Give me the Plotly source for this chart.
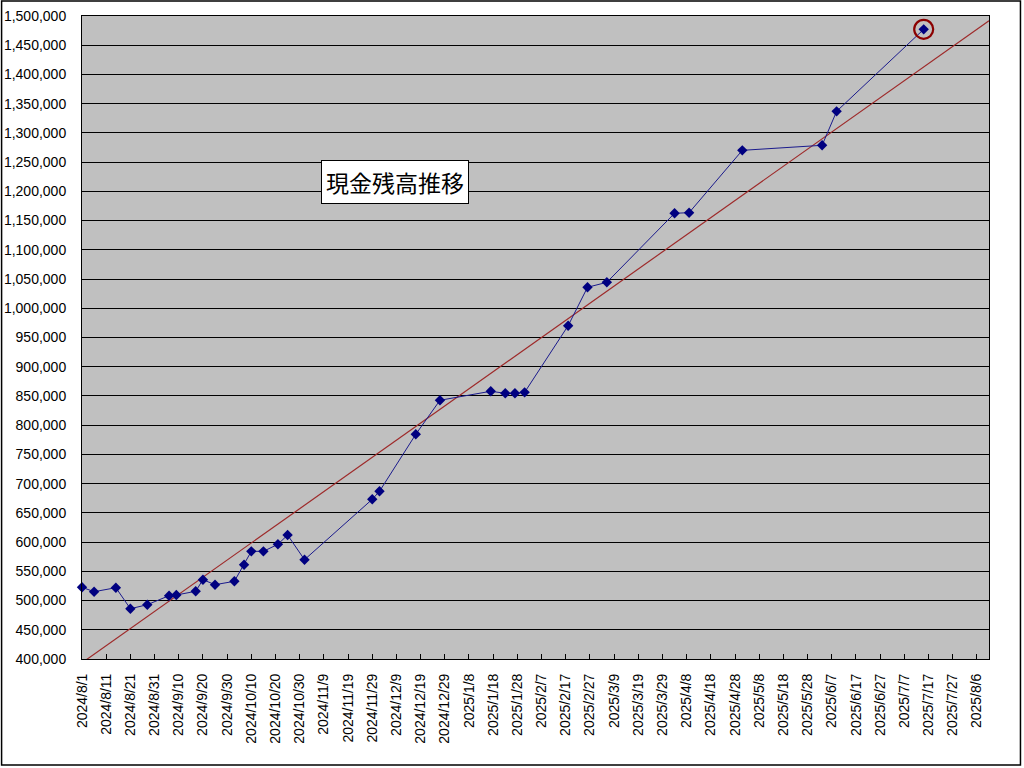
import plotly.graph_objects as go

# ---- data ----
dates = [
    "2024-08-01", "2024-08-06", "2024-08-15", "2024-08-21", "2024-08-28",
    "2024-09-06", "2024-09-09", "2024-09-17", "2024-09-20", "2024-09-25",
    "2024-10-03", "2024-10-07", "2024-10-10", "2024-10-15", "2024-10-21",
    "2024-10-25", "2024-11-01", "2024-11-29", "2024-12-02", "2024-12-17",
    "2024-12-27", "2025-01-17", "2025-01-23", "2025-01-27", "2025-01-31",
    "2025-02-18", "2025-02-26", "2025-03-06", "2025-04-03", "2025-04-09",
    "2025-05-01", "2025-06-03", "2025-06-09", "2025-07-15",
]
balance = [
    522700, 515100, 522000, 486000, 492900,
    508300, 509500, 515800, 535700, 527100,
    532900, 561300, 584200, 584200, 596200,
    612100, 569900, 673200, 686900, 784400,
    842600, 858000, 854500, 854500, 856200,
    970200, 1035900, 1044400, 1162500, 1163500,
    1270200, 1278800, 1336900, 1477200,
]
trend_dates = ["2024-08-01", "2025-08-11"]
trend_values = [393500, 1492000]

title_text = "現金残高推移"
x_range = ["2024-08-01", "2025-08-11"]
y_range = [400000, 1500000]

# ---- layout geometry ----
W, H = 1024, 768
L, R, T, B = 81.5, 989.5, 16, 659
pw, ph = R - L, B - T

def px_x(p):
    return (p - L) / pw

def px_y(p):
    return (B - p) / ph

fig = go.Figure()

fig.add_trace(go.Scatter(
    x=trend_dates, y=trend_values, mode="lines",
    line=dict(color="#9E2A2A", width=1.2),
    hoverinfo="skip", showlegend=False, cliponaxis=True,
))

fig.add_trace(go.Scatter(
    x=dates, y=balance, mode="lines+markers",
    line=dict(color="#1A1A8C", width=1),
    marker=dict(symbol="diamond", size=8, color="#000080"),
    showlegend=False, cliponaxis=False,
))

# highlight circle around the latest point
fig.add_trace(go.Scatter(
    x=[dates[-1]], y=[balance[-1]], mode="markers",
    marker=dict(symbol="circle-open", size=19, color="#8B0000",
                line=dict(width=2.2, color="#8B0000")),
    hoverinfo="skip", showlegend=False, cliponaxis=False,
))

tick_font = dict(family="Liberation Sans, Arial, sans-serif", size=14, color="black")

fig.update_layout(
    width=W, height=H,
    margin=dict(l=L, r=W - R, t=T, b=H - B, pad=0, autoexpand=False),
    paper_bgcolor="white",
    plot_bgcolor="#C0C0C0",
    xaxis=dict(
        type="date", range=x_range, automargin=False,
        tick0="2024-08-01", dtick=10 * 86400000,
        tickformat="%Y/%-m/%-d", tickangle=-90,
        ticks="inside", ticklen=5, tickwidth=1, tickcolor="black",
        ticklabelstandoff=8,
        showgrid=False, zeroline=False,
        showline=True, linecolor="black", linewidth=1, mirror=True,
        tickfont=tick_font,
    ),
    yaxis=dict(
        range=y_range, dtick=50000, tickformat=",d", automargin=False,
        showgrid=True, gridcolor="black", gridwidth=1,
        zeroline=False, ticks="",
        showline=True, linecolor="black", linewidth=1, mirror=True,
        ticklabelstandoff=12,
        tickfont=tick_font,
    ),
    annotations=[dict(
        text=title_text, xref="paper", yref="paper",
        x=px_x(395.3), y=px_y(182), xanchor="center", yanchor="middle",
        showarrow=False,
        font=dict(family="Noto Sans CJK JP", size=23, color="black"),
        bgcolor="white", bordercolor="black", borderwidth=1, borderpad=4,
    )],
    shapes=[dict(
        type="rect", xref="paper", yref="paper",
        x0=px_x(1), x1=px_x(1021), y0=px_y(765), y1=px_y(1),
        line=dict(color="black", width=1.5), fillcolor="rgba(0,0,0,0)",
        layer="below",
    )],
)

fig.write_html(
    "out.html",
    config={"displayModeBar": False},
    post_script="document.body.style.margin='0';document.body.style.overflow='hidden';",
)
